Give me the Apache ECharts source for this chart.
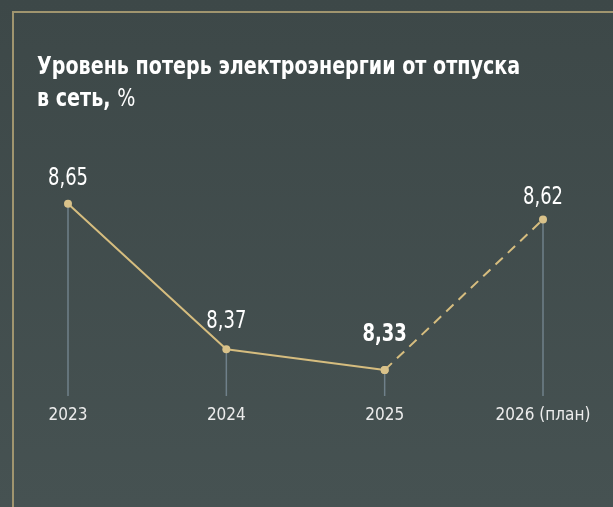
<!DOCTYPE html>
<html>
<head>
<meta charset="utf-8">
<script src="https://cdn.jsdelivr.net/npm/echarts@6/dist/echarts.min.js"></script>
<style>
  html, body { margin: 0; padding: 0; }
  #chart { width: 613px; height: 507px; }
</style>
</head>
<body>
<div id="chart"></div>
<script>
// данные
var years = ['2023', '2024', '2025', '2026 (план)']
var fact = [8.65, 8.37, 8.33, '-']
var plan = ['-', '-', 8.33, 8.62]
var values = [8.65, 8.37, 8.33, 8.62]
var labelGap = [13, 15, 23, 9]
var labelBold = [false, false, true, false]

var font = '"DejaVu Sans Condensed", "DejaVu Sans", sans-serif'
var narrow = 0.8

var myChart = echarts.init(document.getElementById('chart'))

myChart.setOption({
  backgroundColor: {
    type: 'linear', x: 0, y: 0, x2: 0, y2: 1,
    colorStops: [{ offset: 0, color: '#3d4848' }, { offset: 1, color: '#465252' }]
  },
  animation: false,
  grid: {
    left: 68,
    right: 70,
    top: 100,
    bottom: 111
  },
  xAxis: {
    type: 'category',
    boundaryGap: false,
    data: years,
    axisLine: { show: false },
    axisTick: { show: false },
    axisLabel: {
      color: '#ececec',
      fontFamily: font,
      fontSize: 17,
      margin: 11
    }
  },
  yAxis: {
    type: 'value',
    min: 8.28,
    max: 8.85,
    show: false
  },
  series: [
    {
      type: 'bar',
      barWidth: 1.5,
      data: values,
      itemStyle: { color: '#6f808a' },
      silent: true,
      z: 1
    },
    {
      type: 'line',
      data: fact,
      symbol: 'circle',
      symbolSize: 8,
      lineStyle: { color: '#d6bd7f', width: 2 },
      itemStyle: { color: '#d9c28a' },
      z: 3
    },
    {
      type: 'line',
      data: plan,
      symbol: 'circle',
      symbolSize: 8,
      lineStyle: { color: '#d6bd7f', width: 2, type: [10, 7] },
      itemStyle: { color: '#d9c28a' },
      z: 2
    }
  ]
})

// подписи значений (узкий шрифт через scaleX)
var labels = values.map(function (v, i) {
  var p = myChart.convertToPixel({ gridIndex: 0 }, [i, v])
  return {
    type: 'text',
    x: p[0],
    y: p[1] - labelGap[i],
    scaleX: narrow,
    style: {
      text: String(v).replace('.', ','),
      fill: '#ffffff',
      font: (labelBold[i] ? 'bold ' : '') + '25px ' + font,
      align: 'center',
      verticalAlign: 'bottom'
    },
    z: 10
  }
})

myChart.setOption({
  graphic: [
    {
      type: 'rect',
      shape: { x: 13, y: 12, width: 700, height: 600 },
      style: { fill: 'none', stroke: '#a0956f', lineWidth: 2 }
    },
    {
      type: 'text',
      x: 37,
      y: 51,
      scaleX: 0.85,
      style: {
        text: '{b|Уровень потерь электроэнергии от отпуска}\n{b|в сеть, }{r|%}',
        verticalAlign: 'top',
        rich: {
          b: { fontFamily: font, fontSize: 25, fontWeight: 'bold', fill: '#ffffff', lineHeight: 32 },
          r: { fontFamily: font, fontSize: 25, fontWeight: 'normal', fill: '#ffffff', lineHeight: 32 }
        }
      }
    }
  ].concat(labels)
})
</script>
</body>
</html>
